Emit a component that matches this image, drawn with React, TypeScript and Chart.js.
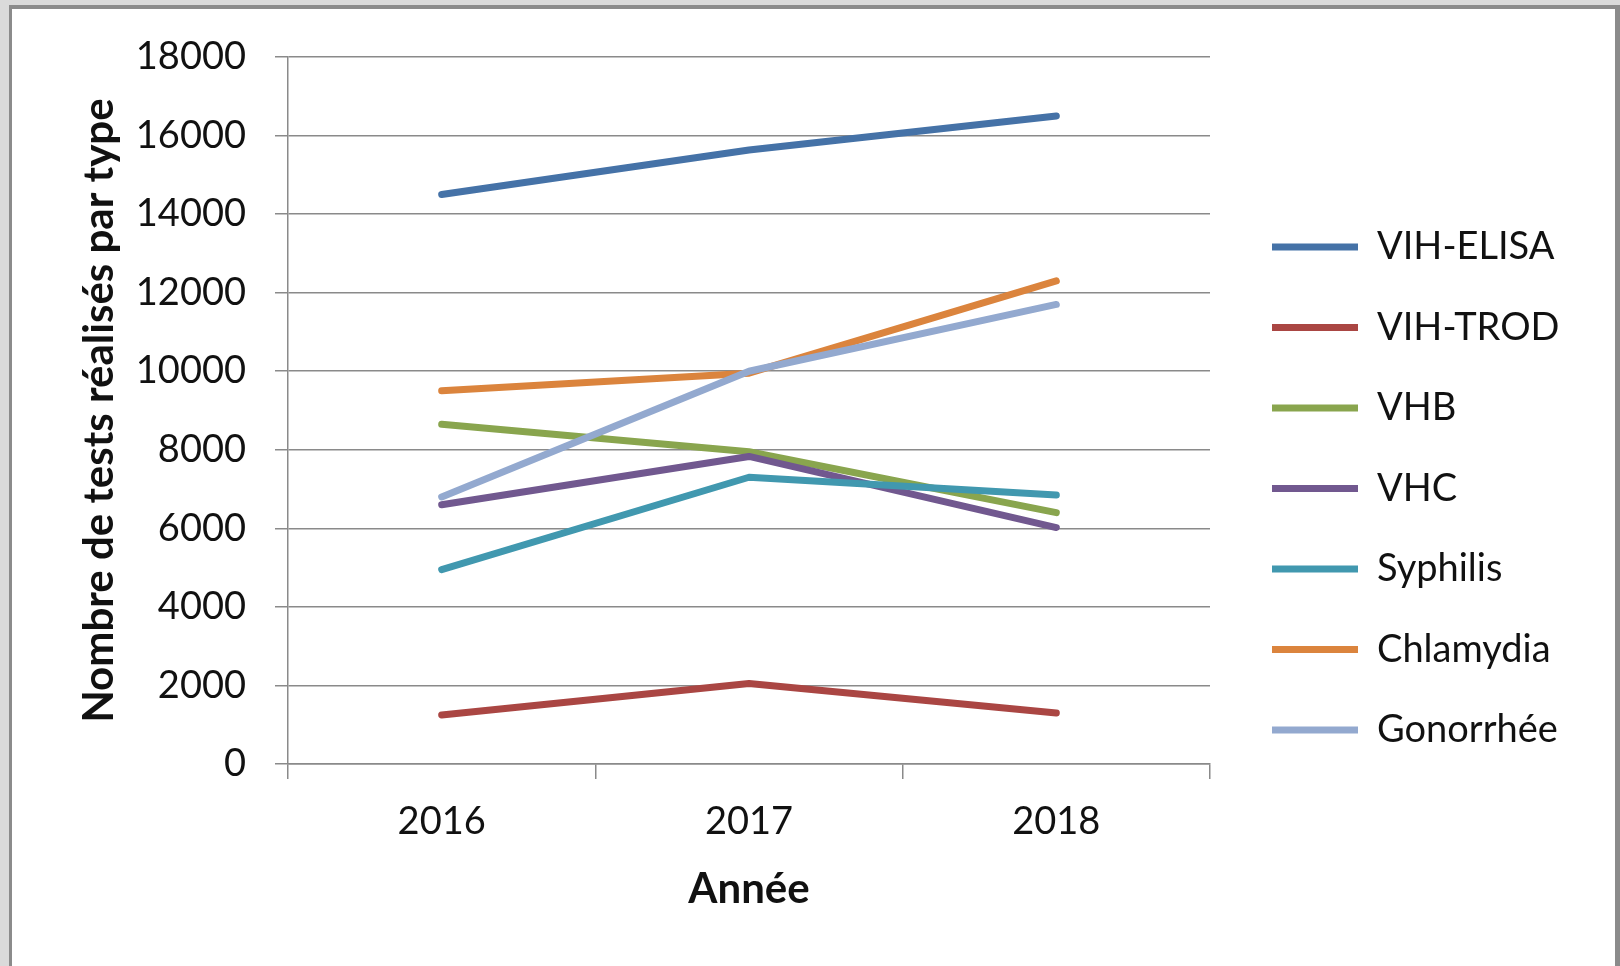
import React, { useEffect, useRef } from 'react';
import { Chart, registerables } from 'chart.js';

Chart.register(...registerables);

// ---- data ----
const years = ['2016', '2017', '2018'];
const seriesNames = ['VIH-ELISA', 'VIH-TROD', 'VHB', 'VHC', 'Syphilis', 'Chlamydia', 'Gonorrhée'];
const vihElisa = [14500, 15630, 16500];
const vihTrod = [1250, 2050, 1300];
const vhb = [8650, 7950, 6400];
const vhc = [6600, 7830, 6020];
const syphilis = [4950, 7300, 6850];
const chlamydia = [9500, 9950, 12300];
const gonorrhee = [6800, 10000, 11700];
const seriesValues = [vihElisa, vihTrod, vhb, vhc, syphilis, chlamydia, gonorrhee];
const seriesColors = ['#4572A7', '#AA4643', '#89A54E', '#71588F', '#4198AF', '#DB843D', '#93A9CF'];
const yMin = 0;
const yMax = 18000;
const yStep = 2000;
const xTitle = 'Année';
const yTitle = 'Nombre de tests réalisés par type';

const W = 1620;
const H = 966;
const FONT = 38;
const TITLE_FONT = 42;
const FAMILY = 'Lato';
const GRID = '#8a8a8a';
const TEXT = '#111111';

export default function App() {
  const ref = useRef<HTMLCanvasElement | null>(null);

  useEffect(() => {
    const canvas = ref.current;
    if (!canvas) return;

    const plotLeft = 288;
    const plotRight = 1210;
    const plotTop = 57;
    const plotBottom = 764;
    const padBottom = 46;
    const legPad = 42.5;
    const boxW = 86;
    const legBoxX = 1272;

    const mctx = document.createElement('canvas').getContext('2d')!;
    mctx.font = `${FONT}px ${FAMILY}`;
    const maxText = Math.max(...seriesNames.map((n) => mctx.measureText(n).width));
    const legendW = legPad + boxW + FONT / 2 + maxText + 10;
    const padRight = Math.max(0, W - plotRight - legendW);
    const shift = legBoxX - (plotRight + legPad);

    const legendShift = {
      id: 'legendShift',
      afterLayout(chart: any) {
        const lg = chart.legend;
        if (lg) {
          lg.left += shift;
          lg.right += shift;
        }
      },
    };

    const titleLH = TITLE_FONT * 1.2;

    const chart = new Chart(canvas, {
      type: 'line',
      data: {
        labels: years,
        datasets: seriesNames.map((name, i) => ({
          label: name,
          data: seriesValues[i],
          borderColor: seriesColors[i],
          backgroundColor: seriesColors[i],
          borderWidth: 7,
          borderCapStyle: 'round' as const,
          borderJoinStyle: 'round' as const,
          pointRadius: 0,
          pointHoverRadius: 0,
          tension: 0,
          fill: false,
          order: seriesNames.length - i,
        })),
      },
      options: {
        responsive: false,
        animation: false,
        devicePixelRatio: 1,
        events: [],
        layout: {
          padding: { left: 0, top: plotTop, right: padRight, bottom: padBottom },
        },
        plugins: {
          tooltip: { enabled: false },
          legend: {
            display: true,
            position: 'right',
            labels: {
              usePointStyle: true,
              pointStyle: 'line',
              pointStyleWidth: boxW,
              padding: legPad,
              color: TEXT,
              font: { family: FAMILY, size: FONT },
              sort: (a: any, b: any) => a.datasetIndex - b.datasetIndex,
            },
          },
        },
        scales: {
          x: {
            type: 'category',
            offset: true,
            grid: {
              offset: true,
              drawOnChartArea: false,
              drawTicks: true,
              tickLength: 15,
              color: GRID,
              lineWidth: 1.5,
            },
            border: { display: true, color: GRID, width: 1.5 },
            ticks: {
              color: TEXT,
              font: { family: FAMILY, size: FONT },
              padding: 20,
              maxRotation: 0,
            },
            title: {
              display: true,
              text: xTitle,
              color: TEXT,
              font: { family: FAMILY, size: TITLE_FONT, weight: 'bold' },
              padding: { top: 0, bottom: 889 - (H - padBottom) + 0 < 0 ? (H - padBottom) - 889 - titleLH / 2 : 0 },
            },
            afterFit: (scale: any) => {
              scale.height = H - padBottom - plotBottom;
            },
          },
          y: {
            min: yMin,
            max: yMax,
            grid: {
              color: GRID,
              lineWidth: 1.5,
              drawTicks: true,
              tickLength: 13,
            },
            border: { display: true, color: GRID, width: 1.5 },
            ticks: {
              stepSize: yStep,
              color: TEXT,
              font: { family: FAMILY, size: FONT },
              padding: 29,
              callback: (v: any) => String(v),
            },
            title: {
              display: true,
              text: yTitle,
              color: TEXT,
              font: { family: FAMILY, size: TITLE_FONT, weight: 'bold' },
              padding: { top: 99 - titleLH / 2, bottom: 0 },
            },
            afterFit: (scale: any) => {
              scale.width = plotLeft;
            },
          },
        },
      },
      plugins: [legendShift],
    });

    return () => {
      chart.destroy();
    };
  }, []);

  return (
    <div
      style={{
        position: 'fixed',
        left: 0,
        top: 0,
        width: W,
        height: H,
        overflow: 'hidden',
        background: '#dadada',
      }}
    >
      <div
        style={{
          position: 'absolute',
          left: 9,
          top: 5,
          width: W - 9,
          height: H + 20,
          boxSizing: 'border-box',
          borderTop: '4px solid #8b8b8b',
          borderLeft: '3px solid #8b8b8b',
          borderRight: '5px solid #8b8b8b',
          background: '#ffffff',
        }}
      />
      <canvas
        ref={ref}
        width={W}
        height={H}
        style={{ position: 'absolute', left: 0, top: 0, width: W, height: H }}
      />
    </div>
  );
}
